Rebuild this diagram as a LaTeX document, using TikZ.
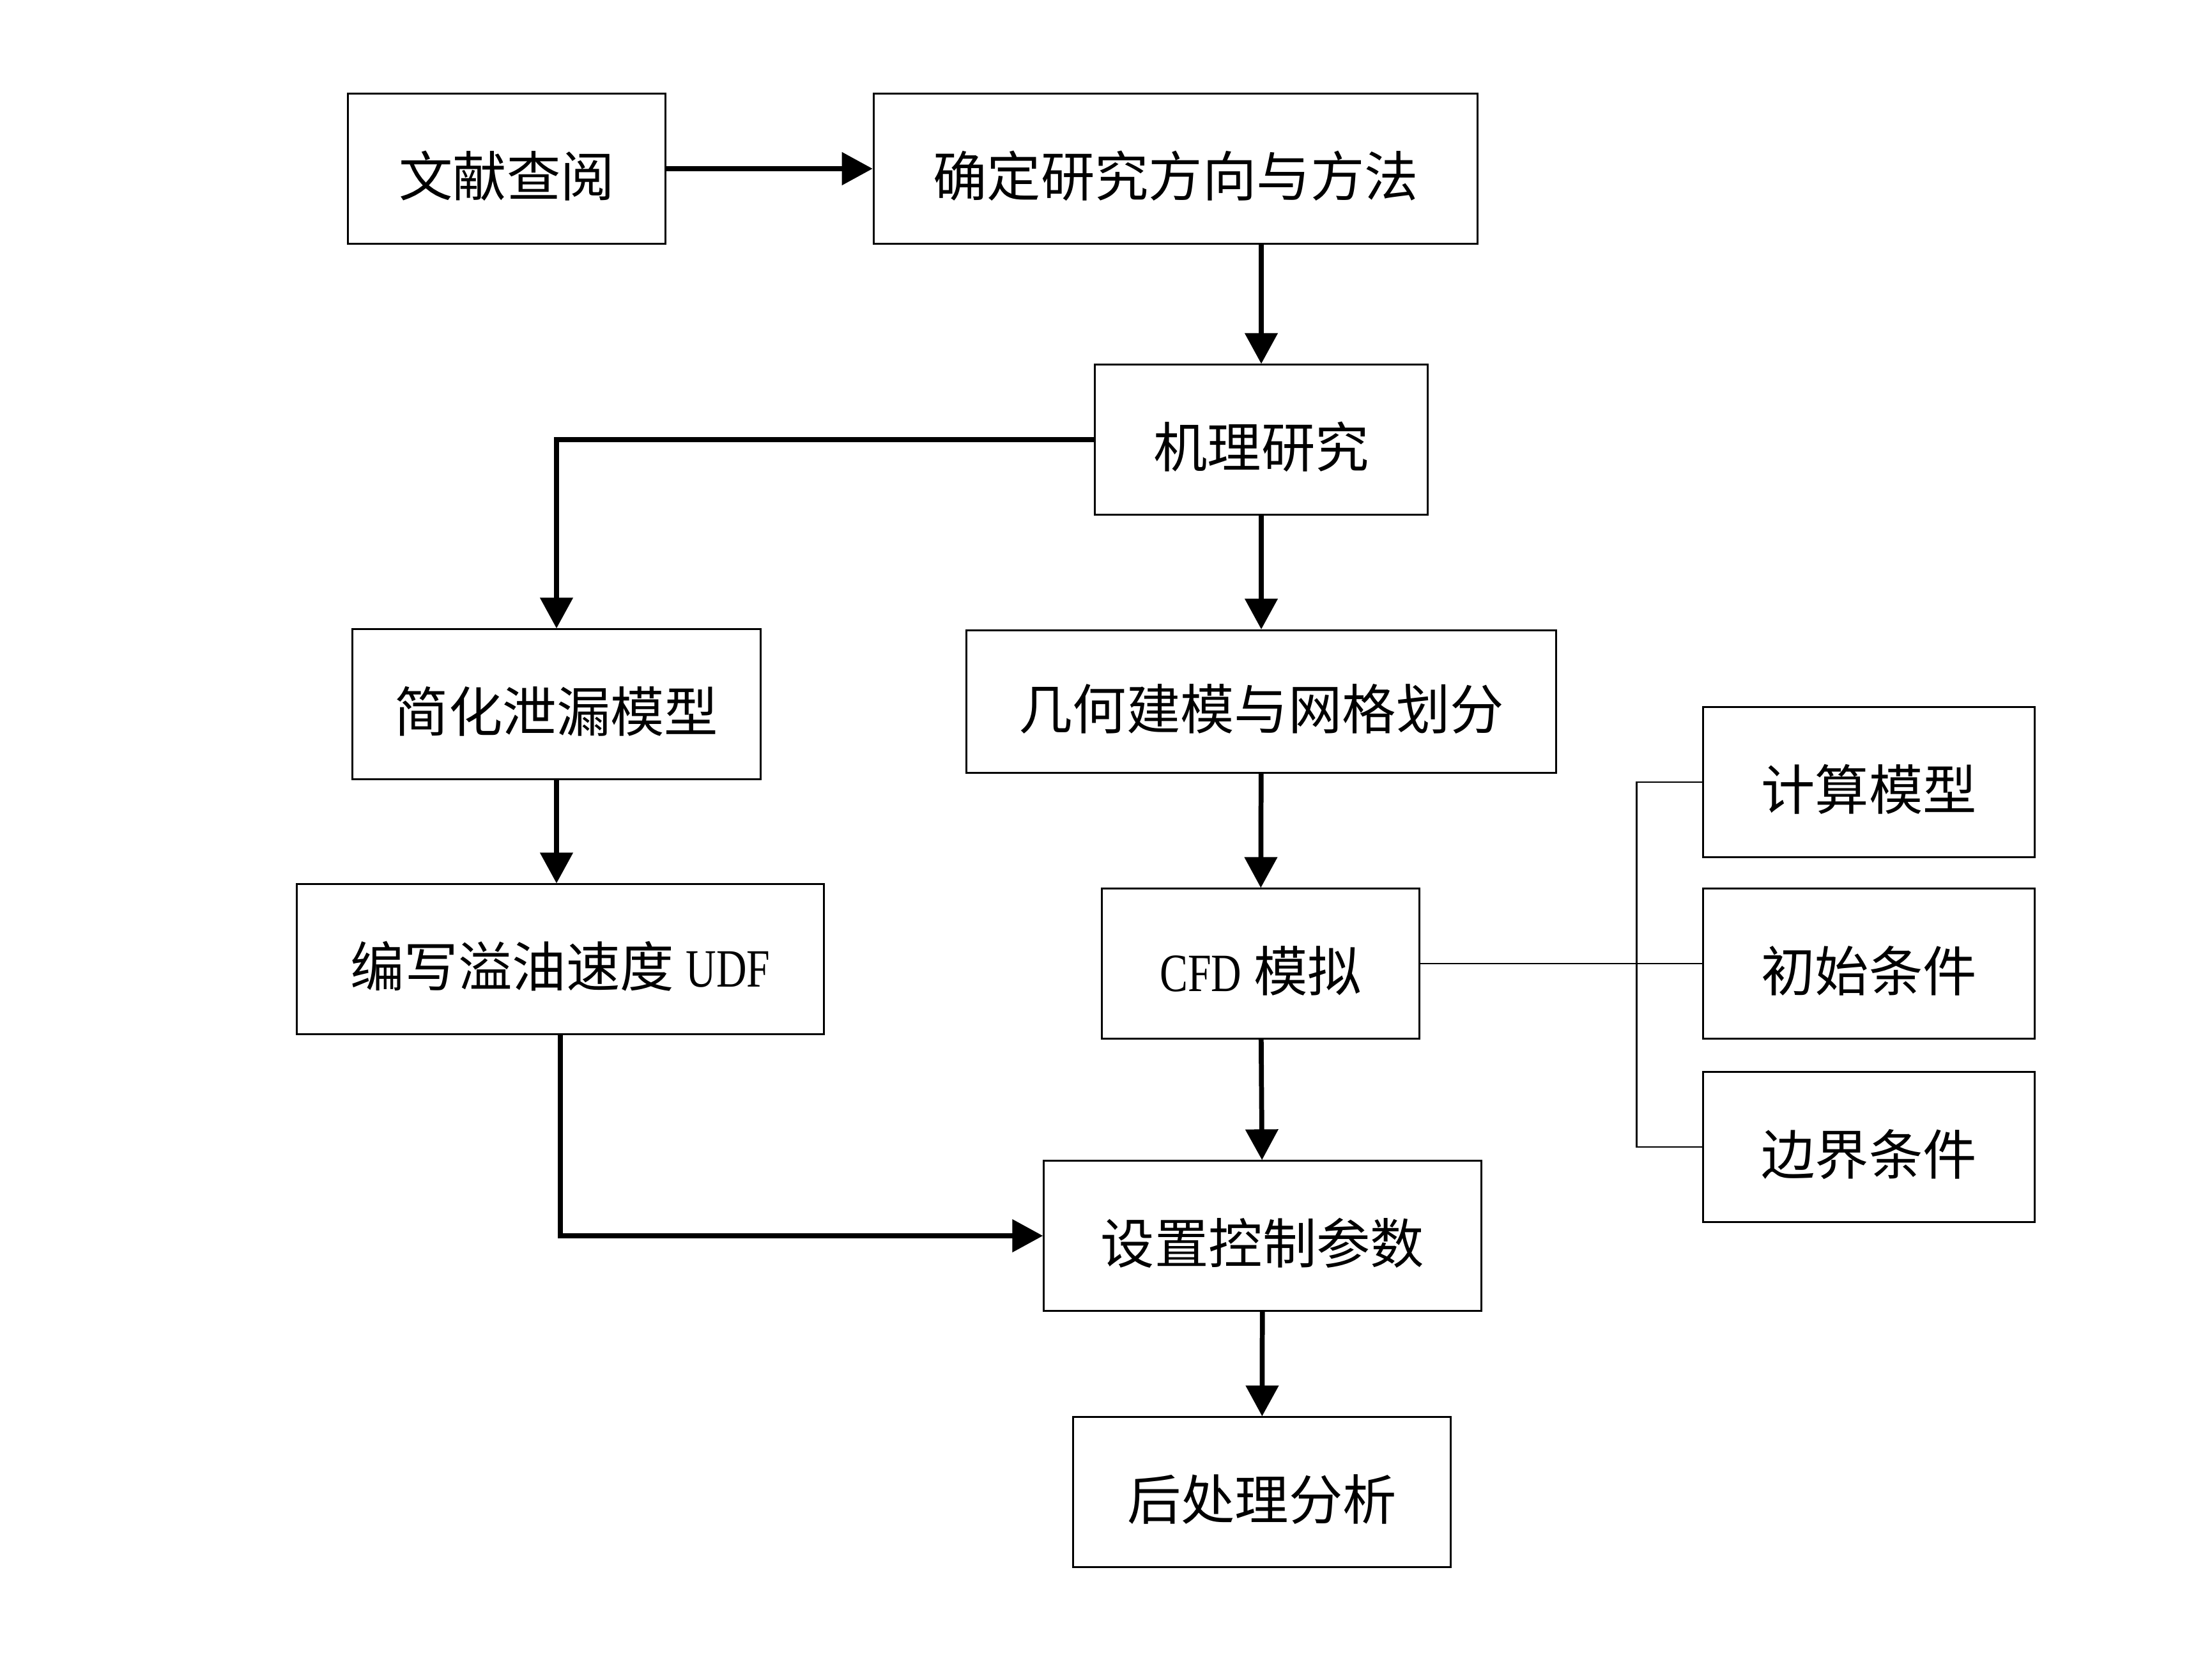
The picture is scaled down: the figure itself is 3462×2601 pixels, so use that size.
\documentclass[tikz,border=0pt]{standalone}
\usepackage{fontspec}
\setmainfont{Noto Sans CJK SC}
\newfontfamily\latin[FakeStretch=0.78]{Liberation Serif}
\usepackage{tikz}
\usetikzlibrary{arrows.meta}

\tikzset{
    blocco/.style={draw, line width=0.85pt, minimum height=2.34cm, inner sep=0pt,
        text height=28pt, text depth=3pt,
        font=\fontsize{24pt}{28pt}\selectfont},
    freccia/.style={line width=2.2pt, -{Triangle[length=4.8mm,width=5mm]}},
    linea/.style={line width=0.85pt},
}

\begin{document}
\begin{tikzpicture}[x=0.01cm, y=-0.01cm]
        \useasboundingbox (0,0) rectangle (3462,2601);
        % BLOCCHI
        \node [blocco, minimum width=4.97cm] (lit) at (793,264) {文献查阅};
        \node [blocco, minimum width=9.45cm] (dir) at (1840,264) {确定研究方向与方法};
        \node [blocco, minimum width=5.20cm] (mech) at (1974,688) {机理研究};
        \node [blocco, minimum width=6.38cm] (simp) at (871,1102) {简化泄漏模型};
        \node [blocco, minimum width=9.23cm, minimum height=2.23cm] (geo) at (1974,1098) {几何建模与网格划分};
        \node [blocco, minimum width=8.25cm] (udf) at (877,1501) {编写溢油速度 {\latin UDF}};
        \node [blocco, minimum width=4.97cm] (cfd) at (1973,1508) {{\latin CFD} 模拟};
        \node [blocco, minimum width=5.19cm] (calc) at (2925,1224) {计算模型};
        \node [blocco, minimum width=5.19cm] (init) at (2925,1508) {初始条件};
        \node [blocco, minimum width=5.19cm] (bnd) at (2925,1795) {边界条件};
        \node [blocco, minimum width=6.84cm] (ctrl) at (1976,1934) {设置控制参数};
        \node [blocco, minimum width=5.90cm] (post) at (1975,2335) {后处理分析};
        \coordinate (nodo) at (2561,1508);

        % COLLEGAMENTI
        \draw [freccia] (lit.east) -- (dir.west);
        \draw [freccia] (dir.south -| mech.north) -- (mech.north);
        \draw [freccia] (mech.west) -| (simp.north);
        \draw [freccia] (mech) -- (geo);
        \draw [freccia] (simp.south) -- (simp.south |- udf.north);
        \draw [freccia] (geo) -- (cfd);
        \draw [freccia] (cfd) -- (ctrl);
        \draw [freccia] (udf.south) |- (ctrl.west);
        \draw [freccia] (ctrl) -- (post);
        \draw [linea] (cfd.east) -- (init.west);
        \draw [linea] (calc.west) -| (nodo) |- (bnd.west);
\end{tikzpicture}
\end{document}
